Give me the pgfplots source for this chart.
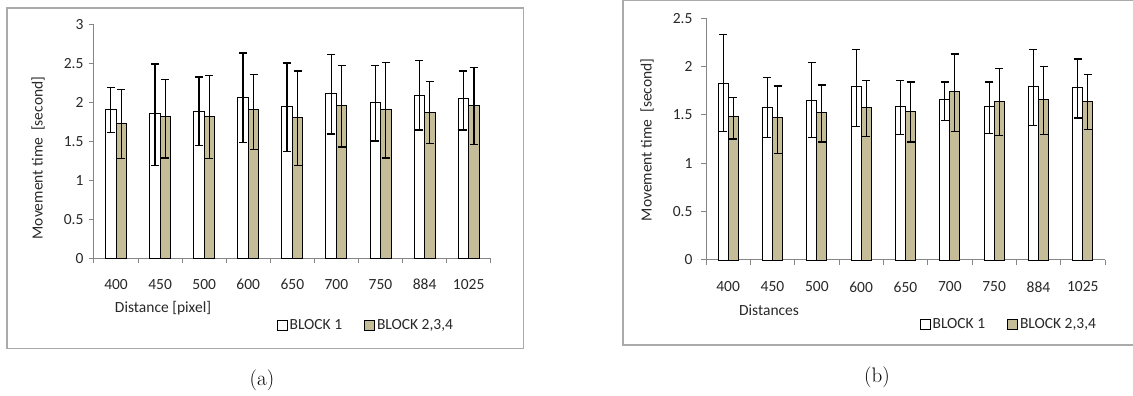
\documentclass[border=0pt]{standalone}
\usepackage{pgfplots}
\usepackage{pgfplotstable}
\pgfplotsset{compat=1.18}
\usepackage{fontspec}
\newfontfamily\chartfont{Carlito}
\newcommand\cf{\chartfont\fontsize{15.5}{18}\selectfont}

\definecolor{tan}{RGB}{196,189,151}
\definecolor{axgray}{RGB}{134,134,134}
\definecolor{framegray}{RGB}{170,170,170}
\definecolor{txt}{RGB}{40,40,40}

% movement time: mean, upper and lower end of the error bar
\pgfplotstableread{
x y hi lo
0 1.91 2.20 1.62
1 1.86 2.50 1.19
2 1.89 2.33 1.45
3 2.07 2.64 1.49
4 1.95 2.51 1.37
5 2.12 2.62 1.60
6 2.01 2.48 1.51
7 2.10 2.54 1.65
8 2.05 2.41 1.65
}\tabAone
\pgfplotstableread{
x y hi lo
0 1.74 2.17 1.28
1 1.82 2.30 1.29
2 1.82 2.35 1.28
3 1.91 2.36 1.40
4 1.81 2.41 1.19
5 1.96 2.48 1.43
6 1.92 2.52 1.29
7 1.87 2.27 1.48
8 1.96 2.45 1.46
}\tabAtwo
\pgfplotstableread{
x y hi lo
0 1.83 2.33 1.33
1 1.58 1.89 1.27
2 1.65 2.04 1.27
3 1.79 2.18 1.38
4 1.59 1.86 1.30
5 1.66 1.84 1.44
6 1.59 1.84 1.31
7 1.79 2.18 1.39
8 1.78 2.08 1.47
}\tabBone
\pgfplotstableread{
x y hi lo
0 1.48 1.68 1.25
1 1.47 1.80 1.10
2 1.53 1.81 1.22
3 1.58 1.86 1.28
4 1.54 1.84 1.22
5 1.74 2.13 1.33
6 1.64 1.98 1.29
7 1.66 2.00 1.30
8 1.64 1.92 1.35
}\tabBtwo

\pgfplotsset{
  excel/.style={
    scale only axis,
    anchor=south west,
    xmin=-0.5, xmax=8.5, ymin=0,
    axis x line*=bottom, axis y line*=left,
    tick pos=left,
    tick align=outside,
    xtick={0,...,8},
    xticklabels={400,450,500,600,650,700,750,884,1025},
    minor xtick={-0.5,0.5,...,8.5},
    major x tick style={draw=none},
    major tick length=5pt, minor tick length=5pt,
    axis line style={draw=axgray, line width=1pt},
    every tick/.style={draw=axgray, line width=1pt},
    /pgf/number format/assume math mode=true,
    ticklabel style={font=\cf, text=txt},
    yticklabel style={/pgf/number format/fixed},
    label style={font=\cf, text=txt},
    legend style={draw=none, fill=none, font=\cf, text=txt, legend columns=2,
      inner sep=0pt, /tikz/every even column/.append style={column sep=20pt}},
    legend cell align=left,
    legend image code/.code={\draw[##1, line width=0.9pt] (0pt,-5pt) rectangle (10pt,5pt);},
    clip=false,
  },
  % bars sit at their own x (left/right of the category centre), so no bar shift
  blockbar/.style={ybar, bar shift=0pt, bar width=10.5pt, draw=black, line width=0.9pt,
    error bars/y dir=both, error bars/y explicit,
    error bars/error bar style={black, line width=1.3pt},
    error bars/error mark options={rotate=90, black, line width=1.3pt, mark size=4pt}},
}

\begin{document}
\begin{tikzpicture}
\clip (0pt,0pt) rectangle (1133pt,396pt);
% chart borders
\draw[framegray, line width=1.5pt] (7pt,47.5pt) rectangle (523.5pt,388pt);
\draw[framegray, line width=1.5pt] (623pt,51pt) rectangle (1160pt,395.5pt);

% (a) distance in pixels
\begin{axis}[excel, at={(94pt,137.7pt)}, width=396.7pt, height=233.3pt,
    ymax=3, ytick={0,0.5,...,3},
    xticklabel style={anchor=center, yshift=-21pt},
    yticklabel style={anchor=east, xshift=-2pt},
    xlabel={Distance [pixel]},
    xlabel style={at={(axis description cs:0.174,-0.213)}, anchor=center},
    ylabel={Movement time\ \ [second]},
    ylabel style={at={(axis description cs:-0.141,0.43)}, anchor=center},
    legend style={at={(axis description cs:0.46,-0.286)}, anchor=west}]
\addplot[blockbar, fill=white]
  table[x expr=\thisrow{x}-0.119, y=y, y error plus expr=\thisrow{hi}-\thisrow{y}, y error minus expr=\thisrow{y}-\thisrow{lo}] {\tabAone};
\addlegendentry{BLOCK 1}
\addplot[blockbar, fill=tan]
  table[x expr=\thisrow{x}+0.119, y=y, y error plus expr=\thisrow{hi}-\thisrow{y}, y error minus expr=\thisrow{y}-\thisrow{lo}] {\tabAtwo};
\addlegendentry{BLOCK 2,3,4}
\end{axis}

% (b) distances
\begin{axis}[excel, at={(706pt,136pt)}, width=399pt, height=241.7pt,
    ymax=2.5, ytick={0,0.5,...,2.5},
    xticklabel style={anchor=center, yshift=-22pt},
    yticklabel style={anchor=east, xshift=-5pt},
    xlabel={Distances},
    xlabel style={at={(axis description cs:0.158,-0.207)}, anchor=center},
    ylabel={Movement time\ \ [second]},
    ylabel style={at={(axis description cs:-0.148,0.497)}, anchor=center},
    legend style={at={(axis description cs:0.535,-0.265)}, anchor=west}]
\addplot[blockbar, bar width=10pt, fill=white]
  table[x expr=\thisrow{x}-0.113, y=y, y error plus expr=\thisrow{hi}-\thisrow{y}, y error minus expr=\thisrow{y}-\thisrow{lo}] {\tabBone};
\addlegendentry{BLOCK 1}
\addplot[blockbar, bar width=10pt, fill=tan]
  table[x expr=\thisrow{x}+0.113, y=y, y error plus expr=\thisrow{hi}-\thisrow{y}, y error minus expr=\thisrow{y}-\thisrow{lo}] {\tabBtwo};
\addlegendentry{BLOCK 2,3,4}
\end{axis}

\node[font=\fontsize{21}{24}\selectfont] at (262pt,16pt) {(a)};
\node[font=\fontsize{21}{24}\selectfont] at (877pt,19pt) {(b)};
\end{tikzpicture}
\end{document}
